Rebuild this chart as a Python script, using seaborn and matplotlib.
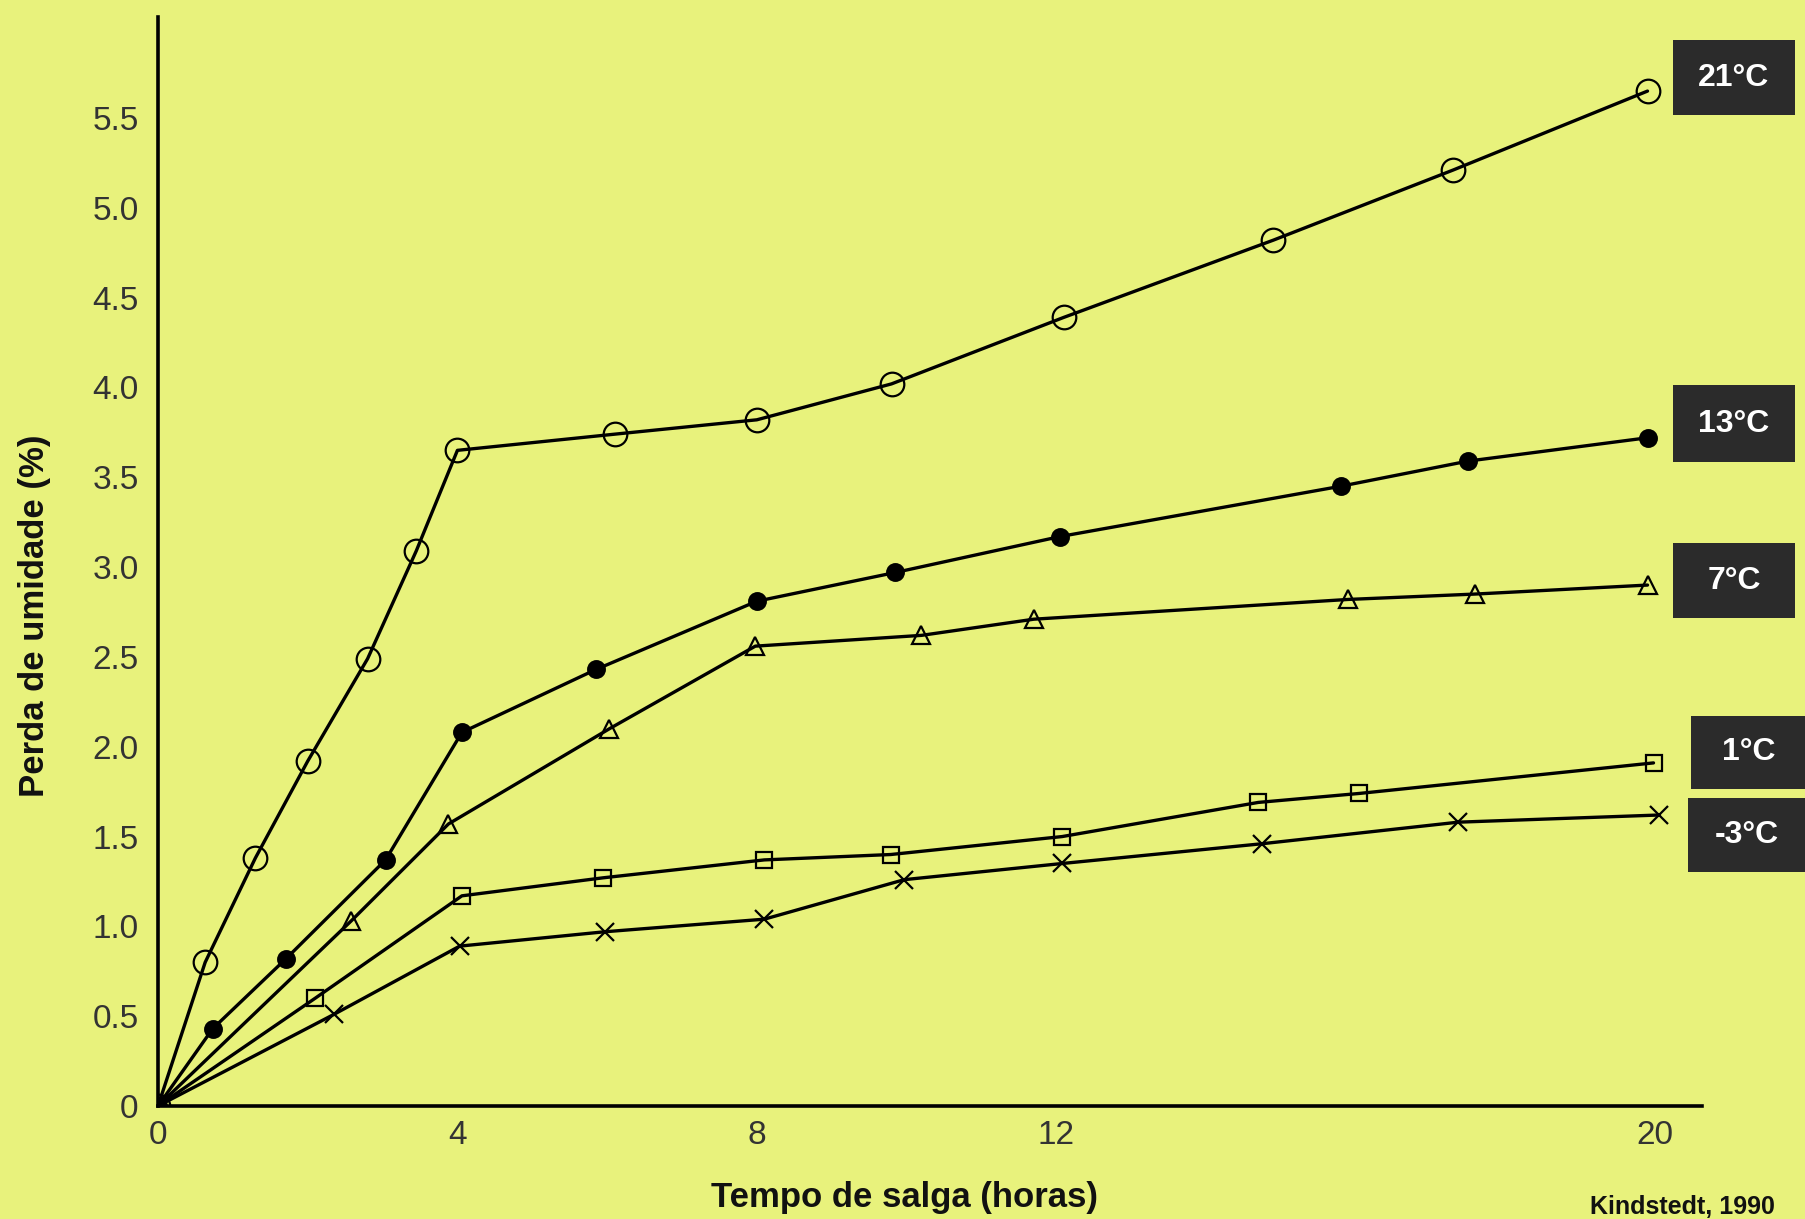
import numpy as np
import pandas as pd
import matplotlib
matplotlib.use('Agg')
import matplotlib.pyplot as plt
import seaborn as sns
from matplotlib.patches import Rectangle

# curves (Kindstedt, 1990)
t_21 = [0, 0.63, 1.3, 2.0, 2.8, 3.45, 4.0, 6.1, 8.0, 9.8, 12.1, 14.9, 17.3, 19.9]
y_21 = [0, 0.80, 1.38, 1.92, 2.49, 3.09, 3.65, 3.74, 3.82, 4.02, 4.39, 4.82, 5.21, 5.65]

t_13 = [0, 0.73, 1.71, 3.04, 4.06, 5.85, 8.0, 9.85, 12.05, 15.8, 17.5, 19.9]
y_13 = [0, 0.43, 0.82, 1.37, 2.08, 2.43, 2.81, 2.97, 3.17, 3.45, 3.59, 3.72]

t_7 = [0, 2.58, 3.88, 6.03, 7.98, 10.2, 11.7, 15.9, 17.6, 19.9]
y_7 = [0, 1.03, 1.57, 2.10, 2.56, 2.62, 2.71, 2.82, 2.85, 2.90]

t_1 = [0, 2.1, 4.06, 5.94, 8.1, 9.79, 12.08, 14.7, 16.05, 19.98]
y_1 = [0, 0.60, 1.17, 1.27, 1.37, 1.40, 1.50, 1.69, 1.74, 1.91]

t_m3 = [0, 2.35, 4.03, 5.97, 8.1, 9.97, 12.08, 14.75, 17.37, 20.06]
y_m3 = [0, 0.51, 0.89, 0.97, 1.04, 1.26, 1.35, 1.46, 1.58, 1.62]

labels = ['21°C', '13°C', '7°C', '1°C', '-3°C']
x_ticks = [0, 4, 8, 12, 20]
y_ticks = [0, 0.5, 1.0, 1.5, 2.0, 2.5, 3.0, 3.5, 4.0, 4.5, 5.0, 5.5]
y_ticklabels = ['0', '0.5', '1.0', '1.5', '2.0', '2.5', '3.0', '3.5', '4.0', '4.5', '5.0', '5.5']

W, H = 1806, 1219
bg = '#e8f27c'
sns.set_style('white')
plt.rcParams['font.family'] = ['Liberation Sans', 'DejaVu Sans']

fig = plt.figure(figsize=(W / 100, H / 100), dpi=100, facecolor=bg)
ax = fig.add_axes([0.0875, 0.0927, 0.855, 0.893])
ax.set_facecolor(bg)

series = [
    (t_21, y_21, dict(marker='o', markersize=17, markerfacecolor='none')),
    (t_13, y_13, dict(marker='o', markersize=12, markerfacecolor='black')),
    (t_7, y_7, dict(marker='^', markersize=13, markerfacecolor='none')),
    (t_1, y_1, dict(marker='s', markersize=12, markerfacecolor='none')),
    (t_m3, y_m3, dict(marker='x', markersize=13)),
]
for t, y, style in series:
    sns.lineplot(x=t, y=y, ax=ax, color='black', linewidth=2.4, sort=False,
                 estimator=None, markeredgecolor='black', markeredgewidth=1.6,
                 **style)

ax.set_xlim(0, 20.63)
ax.set_ylim(0, 6.06)
ax.set_xticks(x_ticks)
ax.set_xticklabels([str(v) for v in x_ticks])
ax.set_yticks(y_ticks)
ax.set_yticklabels(y_ticklabels)
ax.tick_params(axis='both', length=0, labelsize=24, labelcolor='#333333')
ax.tick_params(axis='y', pad=14)
ax.tick_params(axis='x', pad=10)

for side in ['top', 'right']:
    ax.spines[side].set_visible(False)
for side in ['left', 'bottom']:
    ax.spines[side].set_linewidth(2.6)
    ax.spines[side].set_color('black')

ax.set_xlabel('')
ax.set_ylabel('')
fig.text(905 / W, 1 - 1198 / H, 'Tempo de salga (horas)', ha='center', va='center',
         fontsize=25, fontweight='bold', color='#111111')
fig.text(35 / W, 1 - 616 / H, 'Perda de umidade (%)', ha='center', va='center',
         rotation=90, fontsize=25, fontweight='bold', color='#111111')
fig.text(1590 / W, 1 - 1207 / H, 'Kindstedt, 1990', ha='left', va='center',
         fontsize=18, fontweight='bold', color='#111111')

# temperature tags on the right: (left, top, right, bottom) in pixels
tag_box = [(1673, 40, 1795, 115), (1673, 385, 1795, 462), (1673, 543, 1795, 618),
           (1691, 716, 1806, 789), (1688, 798, 1806, 872)]
for lab, (x0, y0, x1, y1) in zip(labels, tag_box):
    fig.patches.append(Rectangle((x0 / W, 1 - y1 / H), (x1 - x0) / W, (y1 - y0) / H,
                                 transform=fig.transFigure, fc='#2b2b2b', ec='none'))
    fig.text((x0 + x1) / 2 / W, 1 - (y0 + y1) / 2 / H, lab, ha='center', va='center',
             fontsize=23, fontweight='bold', color='white')

fig.savefig('out.png', dpi=100, facecolor=bg)
